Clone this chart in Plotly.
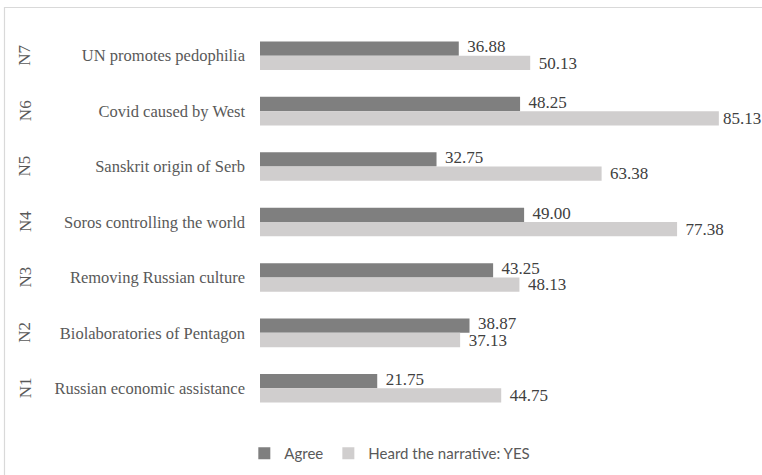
import plotly.graph_objects as go

codes = ["N1", "N2", "N3", "N4", "N5", "N6", "N7"]
labels = ["Russian economic assistance", "Biolaboratories of Pentagon", "Removing Russian culture",
          "Soros controlling the world", "Sanskrit origin of Serb", "Covid caused by West",
          "UN promotes pedophilia"]
agree = [21.75, 38.87, 43.25, 49.00, 32.75, 48.25, 36.88]
heard = [44.75, 37.13, 48.13, 77.38, 63.38, 85.13, 50.13]

W, H = 762, 475
ml, mr, mt, mb = 260, 12, 28, 59
pw = W - ml - mr
ph = H - mt - mb
xmax = pw / 5.39
bw = 0.258  # bar thickness in category units

serif = "Liberation Serif"
pos = list(range(len(labels)))
pad = "\u00a0\u00a0"
hmax = max(heard)

fig = go.Figure()
fig.add_trace(go.Bar(
    y=pos, x=agree, orientation="h", name="Agree",
    marker=dict(color="#7f7f7f", line=dict(width=0)),
    width=bw, offset=0, legendrank=1,
))
fig.add_trace(go.Bar(
    y=pos, x=heard, orientation="h", name="Heard the narrative: YES",
    marker=dict(color="#d0cece", line=dict(width=0)),
    width=bw, offset=-bw, legendrank=2,
))
fig.add_trace(go.Scatter(
    y=[p + bw / 2 + 0.01 for p in pos], x=agree, mode="text",
    text=[pad + f"{v:.2f}" for v in agree], textposition="middle right",
    textfont=dict(family=serif, size=17, color="#404040"),
    showlegend=False, hoverinfo="skip", cliponaxis=False,
))
fig.add_trace(go.Scatter(
    y=[p - bw / 2 - 0.025 for p in pos], x=heard, mode="text",
    text=[("\u00a0" if v == hmax else pad) + f"{v:.2f}" for v in heard], textposition="middle right",
    textfont=dict(family=serif, size=17, color="#404040"),
    showlegend=False, hoverinfo="skip", cliponaxis=False,
))

for c, p in zip(codes, pos):
    fig.add_annotation(x=(25 - ml) / pw, xref="paper", xanchor="center", y=p, yref="y",
                       yanchor="middle", text=c,
                       textangle=-90, showarrow=False,
                       font=dict(family=serif, size=17, color="#595959"))

# outer border (cropped on right/bottom)
fig.add_shape(type="rect", xref="paper", yref="paper",
              x0=(4.5 - ml) / pw, x1=(W + 5 - ml) / pw,
              y0=(mt + ph - (H + 5)) / ph,
              y1=(mt + ph - 7.5) / ph,
              line=dict(color="#d9d9d9", width=1.2), fillcolor="rgba(0,0,0,0)", layer="below")

fig.update_layout(
    width=W, height=H,
    margin=dict(l=ml, r=mr, t=mt, b=mb, autoexpand=False),
    paper_bgcolor="white", plot_bgcolor="white",
    barmode="overlay",
    xaxis=dict(range=[0, xmax], visible=False),
    yaxis=dict(range=[-0.5, len(labels) - 0.5], tickmode="array", tickvals=pos, ticktext=labels,
               showgrid=False, zeroline=False, showline=False, ticks="",
               ticklabelstandoff=14,
               tickfont=dict(family=serif, size=16.5, color="#595959")),
    legend=dict(orientation="h", x=-0.032, xanchor="left", y=(mt + ph - 437) / ph, yanchor="top",
                font=dict(family="Lato", size=15, color="#595959"),
                itemwidth=30, traceorder="normal"),
    showlegend=True,
)

fig.write_html("out.html")
